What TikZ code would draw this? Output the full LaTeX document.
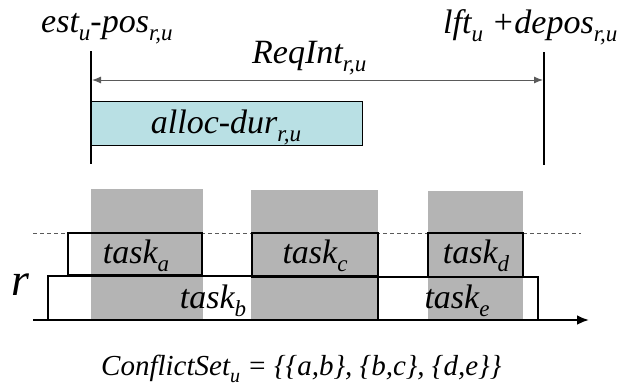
\documentclass[tikz,border=0pt]{standalone}
\usepackage{fontspec}
\setmainfont{Liberation Serif}
\usetikzlibrary{arrows.meta}
\definecolor{allocfill}{RGB}{185,224,228}
\definecolor{busy}{RGB}{180,180,180}
\definecolor{dimline}{RGB}{90,90,90}
\newcommand{\sbs}[1]{\raisebox{-8pt}{\fontsize{23}{23}\selectfont #1}}
\newcommand{\sbsm}[1]{\raisebox{-7pt}{\fontsize{20}{20}\selectfont #1}}
\tikzset{
  lbl/.style={anchor=base west, inner sep=0pt, font=\fontsize{34}{34}\selectfont\itshape},
  clbl/.style={anchor=base, inner sep=0pt, font=\fontsize{34}{34}\selectfont\itshape},
  vline/.style={line width=2pt},
  busyblock/.style={fill=busy, draw=none},
  taskbox/.style={draw=black, line width=1.5pt},
  smalltip/.tip={Latex[length=9pt,width=7pt]},
}
\begin{document}
\begin{tikzpicture}[x=1pt,y=-1pt]
\useasboundingbox (0,0) rectangle (621,386);
% busy periods
\fill[busyblock] (91,189) rectangle (203,320);
\fill[busyblock] (251,190) rectangle (378,320);
\fill[busyblock] (428,191) rectangle (523,320);
% capacity line
\draw[dimline, line width=0.6pt, dash pattern=on 4pt off 3pt] (33,233) -- (581,233);
% tasks
\draw[taskbox] (68,233) rectangle (202,275);
\draw[taskbox] (252,233) rectangle (378,277);
\draw[taskbox] (428,233) rectangle (523,277);
\draw[taskbox] (48,276) rectangle (378,320);
\draw[taskbox] (378,277) rectangle (538,320);
% axis
\coordinate (ax0) at (33,320);
\coordinate (ax1) at (589,320);
\draw[line width=2.5pt, -{Latex[length=12pt,width=10pt]}] (ax0) -- (ax1);
% request interval
\coordinate (l1) at (91,51);
\coordinate (l2) at (91,164);
\coordinate (r1) at (544,52);
\coordinate (r2) at (544,165);
\draw[vline] (l1) -- (l2);
\draw[vline] (r1) -- (r2);
\coordinate (a1) at (92,80);
\coordinate (a2) at (543,80);
\draw[dimline, line width=1pt, smalltip-smalltip] (a1) -- (a2);
\draw[fill=allocfill, line width=1pt] (91,101) rectangle (362,145);
% labels
\node[lbl] (est) at (41,32) {est\sbs{u}-pos\sbs{r,u}};
\node[lbl] (lft) at (443,33) {lft\sbs{u} +depos\sbs{r,u}};
\node[lbl] (req) at (252,63) {ReqInt\sbs{r,u}};
\node[clbl] (alloc) at (226,133) {alloc-dur\sbs{r,u}};
\node[clbl] (ta) at (136,263) {task\sbs{a}};
\node[clbl] (tc) at (315,263) {task\sbs{c}};
\node[clbl] (td) at (476,263) {task\sbs{d}};
\node[clbl] (tb) at (213,308) {task\sbs{b}};
\node[clbl] (te) at (457,308) {task\sbs{e}};
\node[anchor=base west, inner sep=0pt, font=\fontsize{46}{46}\selectfont\itshape] (r) at (11,295) {r};
\node[anchor=base west, inner sep=0pt, font=\fontsize{29}{29}\selectfont\itshape] (cs) at (101,375) {ConflictSet\sbsm{u} = \{\{a,b\}, \{b,c\}, \{d,e\}\}};
\end{tikzpicture}
\end{document}
